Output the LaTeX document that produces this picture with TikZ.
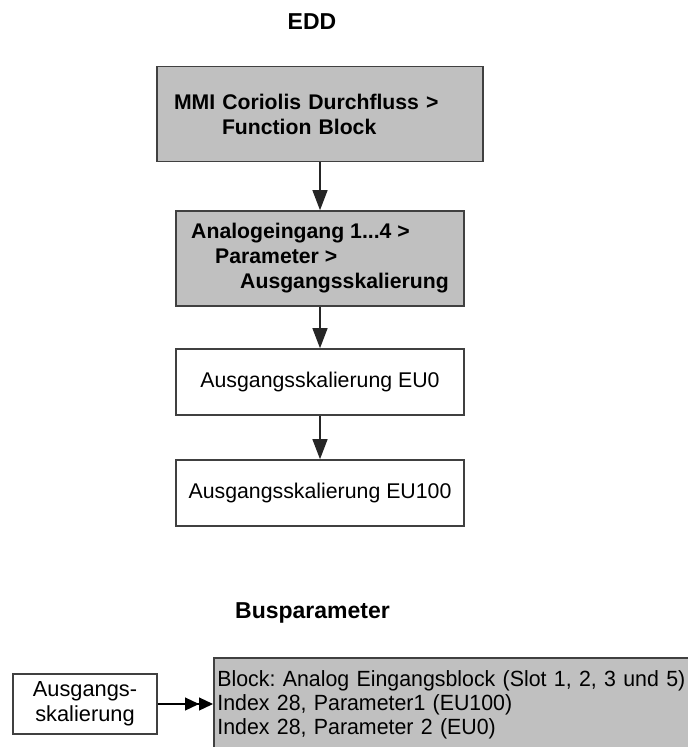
\documentclass[tikz,border=0pt]{standalone}
\usepackage{fontspec}
\setmainfont{Liberation Sans}
\newfontfamily\busfont{Liberation Sans}[FakeStretch=0.97]
\usetikzlibrary{arrows.meta}
\definecolor{boxfill}{RGB}{192,192,192}
\definecolor{boxline}{RGB}{64,64,64}
\frenchspacing
\begin{document}
\begin{tikzpicture}[x=.5pt,y=-.5pt,
  box/.style={draw=boxline,line width=.8pt,rectangle,inner sep=0pt},
  greybox/.style={box,fill=boxfill,font=\fontsize{10.6}{12.5}\selectfont\bfseries,align=left},
  whitebox/.style={box,minimum width=144pt,minimum height=33pt,font=\fontsize{10.65}{13}\selectfont},
  headline/.style={font=\fontsize{11.5}{14}\selectfont\bfseries,anchor=base},
  flow/.style={draw=black!85,line width=.6pt,-{Triangle[length=10pt,width=7.5pt]}}]
\useasboundingbox(0,0)rectangle(688,747);
\clip(0,0)rectangle(688,747);
% EDD
\node[headline](edd)at(312,30){EDD};
\node[greybox,minimum width=163pt,minimum height=47.5pt,text width=146pt,inner xsep=8.5pt](mmi)at(320,114.2){MMI Coriolis Durchfluss >\\\hspace*{24pt}Function Block};
\node[greybox,minimum width=144pt,minimum height=47.5pt](aein)at(320,258.5){Analogeingang 1...4 >\\\hspace*{12pt}Parameter >\\\hspace*{24.5pt}Ausgangsskalierung};
\node[whitebox](eu0)at(320,382){Ausgangsskalierung EU0};
\node[whitebox](eu100)at(320,493){Ausgangsskalierung EU100};
\foreach \a/\b in {mmi/aein,aein/eu0,eu0/eu100}{\draw[flow](\a)--(\b);}
% Busparameter
\node[headline](bus)at(312.5,618){Busparameter};
\node[box,minimum width=72pt,minimum height=30pt,align=center,font=\fontsize{10.9}{12.5}\selectfont](skal)at(85,704){Ausgangs-\\skalierung};
\node[box,fill=boxfill,anchor=north west,inner xsep=1.8pt,inner ysep=6.5pt,text width=260pt,align=left,font=\busfont\fontsize{11}{12}\selectfont](busblk)at(213,657){Block: Analog Eingangsblock (Slot 1, 2, 3 und 5)\\Index 28, Parameter1 (EU100)\\Index 28, Parameter 2 (EU0)};
\draw[line width=.6pt,-{Triangle[length=7pt,width=6.5pt]Triangle[length=7pt,width=6.5pt]}](skal)--(skal-|busblk.west);
\end{tikzpicture}
\end{document}
